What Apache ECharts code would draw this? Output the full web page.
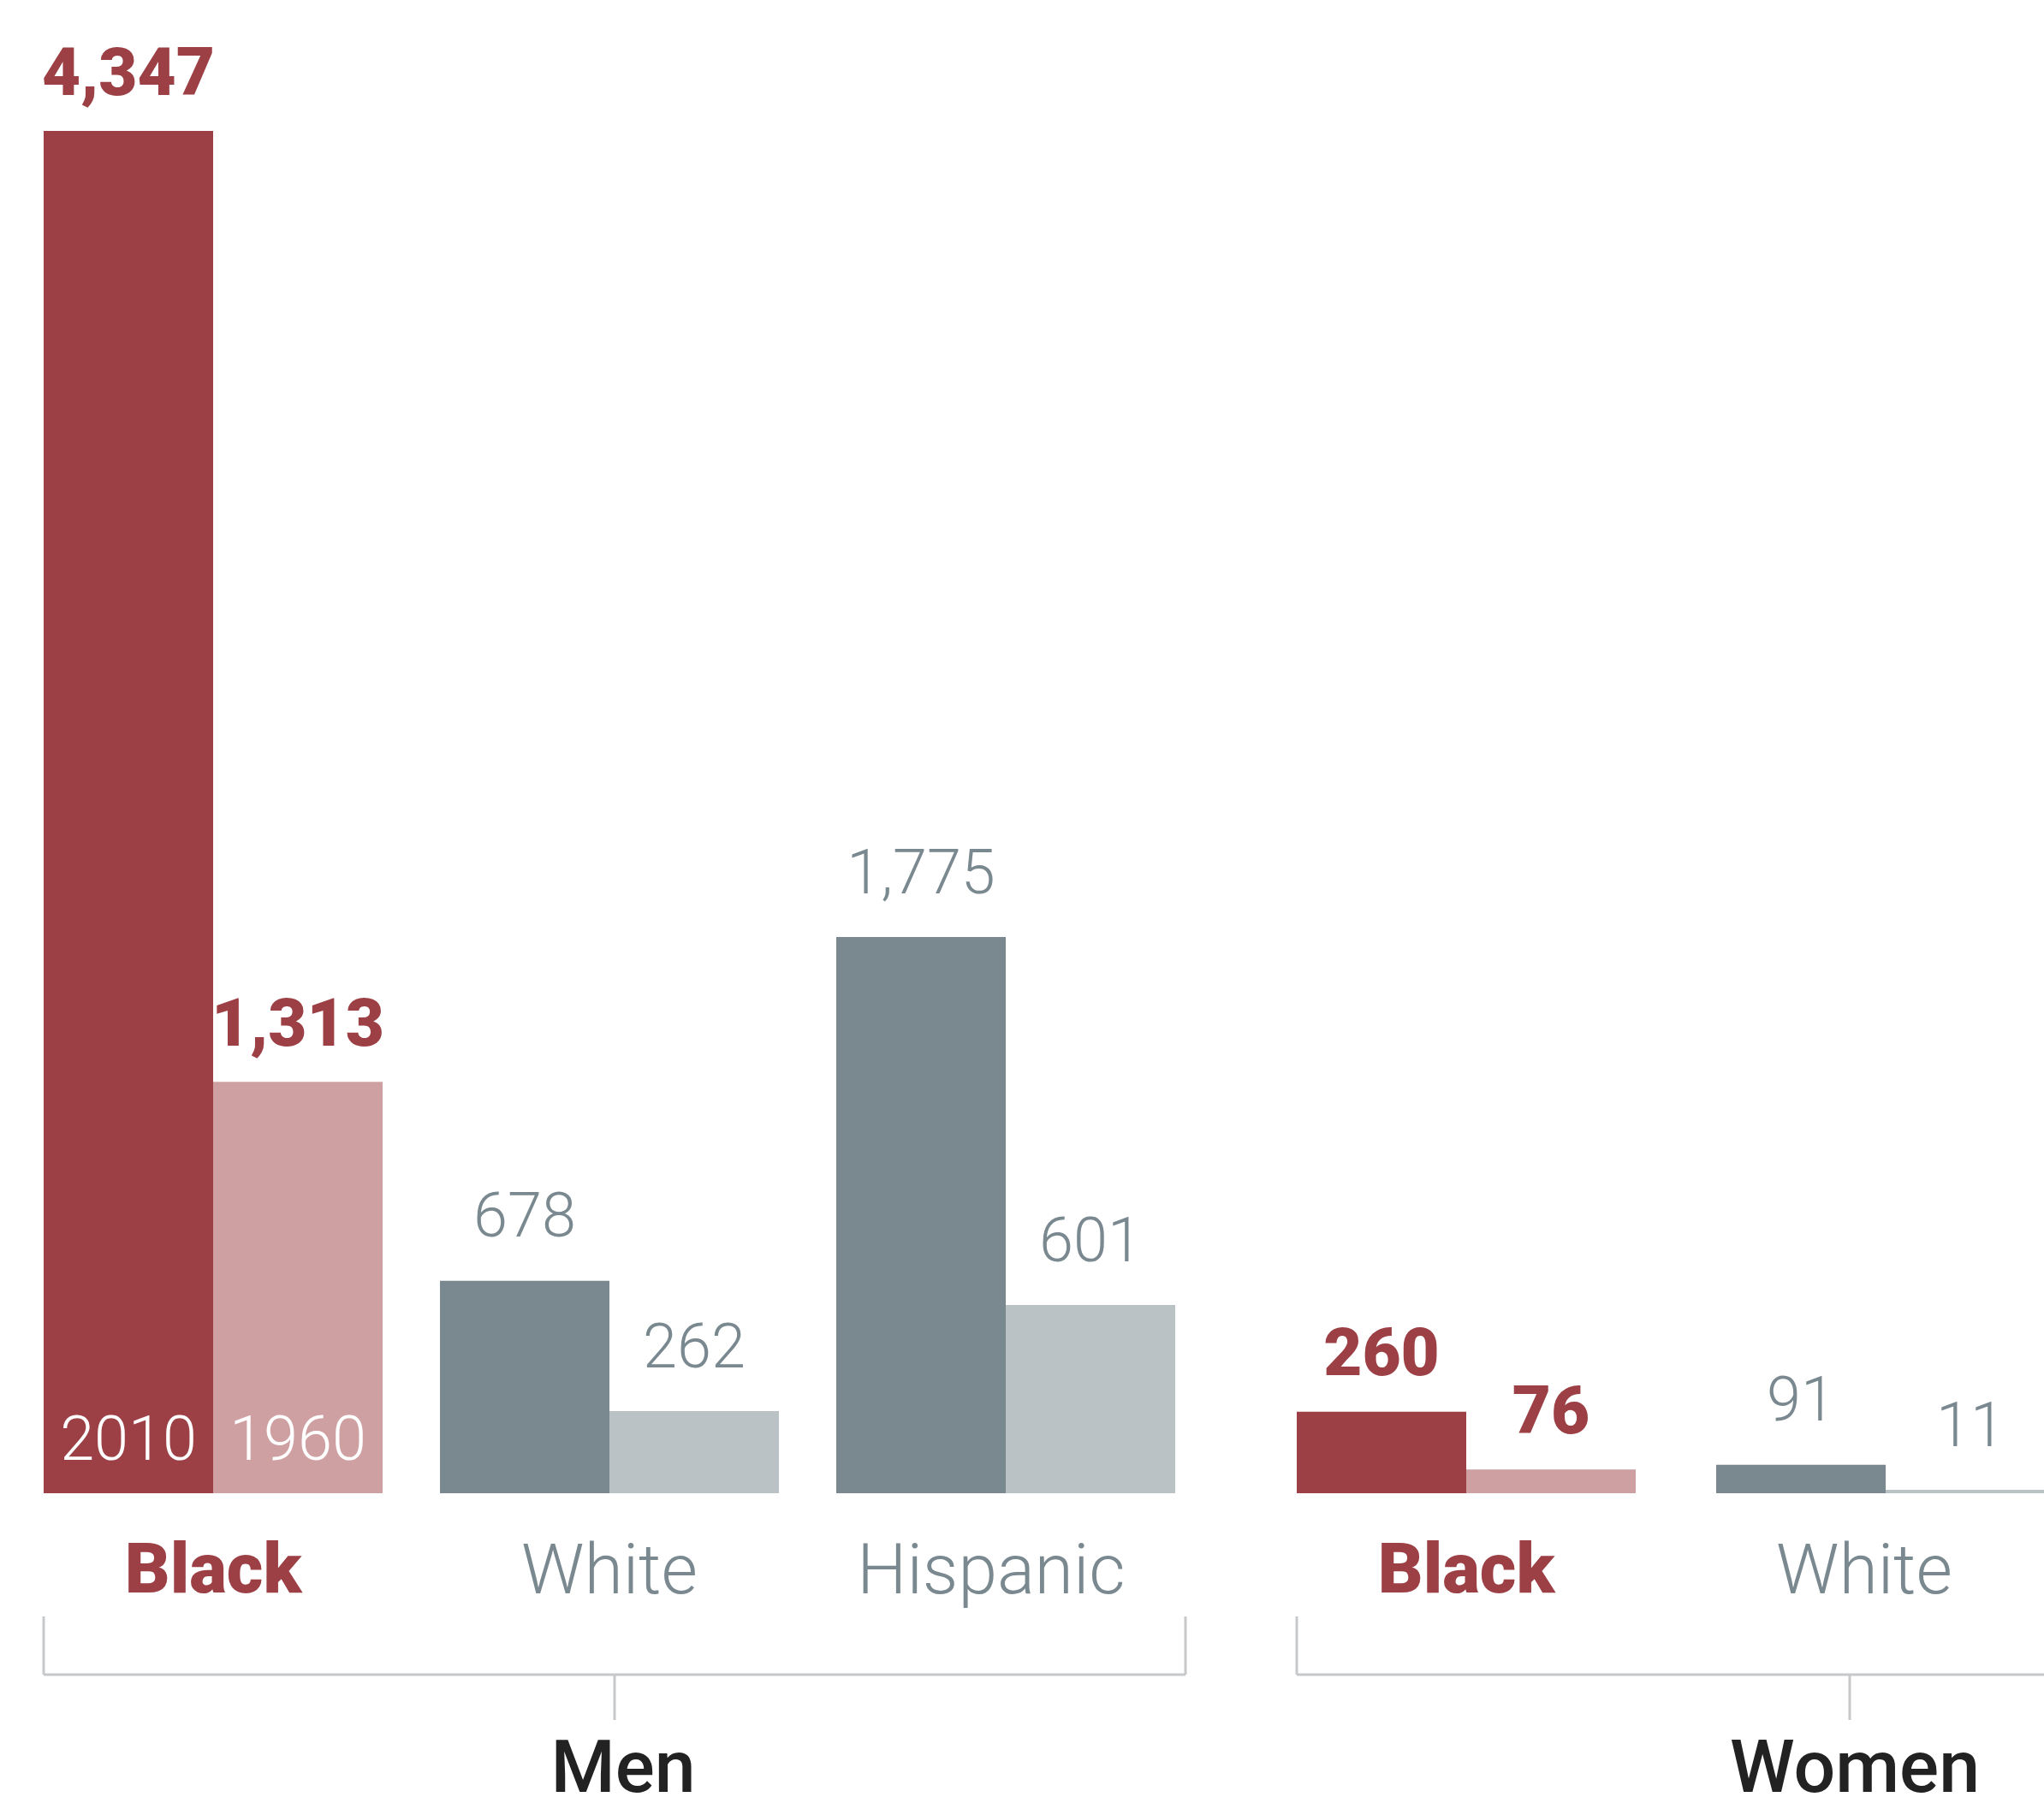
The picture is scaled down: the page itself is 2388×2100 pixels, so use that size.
<script src="https://cdnjs.cloudflare.com/ajax/libs/echarts/6.0.0/echarts.min.js"></script>
<body style="margin:0;background:#fff">
<div id="main" style="width:2388px;height:2100px;"></div>
<script type="text/javascript">
  // data
  var menCats = ['Black', 'White', 'Hispanic'];
  var men2010 = [4347, 678, 1775];
  var men1960 = [1313, 262, 601];
  var womenCats = ['Black', 'White'];
  var women2010 = [260, 91];
  var women1960 = [76, 11];
  var yearNames = ['2010', '1960'];
  var groupNames = ['Men', 'Women'];

  var RED = '#9c4046', PINK = '#cfa0a2', GRAY = '#7a888f', LGRAY = '#bac2c5';
  var TXTGRAY = '#7a888f';
  var BAR_W = 198;

  var chart = echarts.init(document.getElementById('main'));

  function fmt(v) { return v.toLocaleString('en-US'); }

  var rich = {
    b: { fontFamily: 'Roboto', fontWeight: 900, fontSize: 78, color: RED },
    g: { fontFamily: 'Roboto', fontWeight: 300, fontSize: 72, color: TXTGRAY }
  };

  function makeData(vals, cats, recent) {
    return vals.map(function (v, i) {
      var black = cats[i] === 'Black';
      return {
        value: v,
        itemStyle: { color: black ? (recent ? RED : PINK) : (recent ? GRAY : LGRAY) },
        label: {
          show: true,
          position: 'top',
          distance: black ? 0 : 12,
          formatter: function (p) { return (black ? '{b|' : '{g|') + fmt(p.value) + '}'; },
          rich: rich
        }
      };
    });
  }

  function barSeries(idx, vals, cats, recent) {
    return {
      type: 'bar',
      name: recent ? yearNames[0] : yearNames[1],
      xAxisIndex: idx,
      yAxisIndex: idx,
      barWidth: BAR_W,
      barGap: '0%',
      data: makeData(vals, cats, recent)
    };
  }

  // year tag drawn at the foot of the first pair of bars
  function yearTag(val, name, dx) {
    return {
      type: 'scatter', xAxisIndex: 0, yAxisIndex: 0, symbolSize: 0,
      itemStyle: { opacity: 1 },
      data: [[0, val]],
      label: {
        show: true, position: 'top', distance: 0, offset: [dx, 0],
        formatter: name,
        fontFamily: 'Roboto', fontWeight: 300, fontSize: 72, color: '#fff'
      },
      z: 5
    };
  }

  // small nudges so category names sit where the original puts them
  function xAx(idx, cats, nudge) {
    return {
      type: 'category',
      gridIndex: idx,
      data: cats,
      axisLine: { show: false },
      axisTick: { show: false },
      axisLabel: {
        margin: 31,
        interval: 0,
        formatter: function (v, i) {
          var s = v === 'Black' ? 'b' : 'g';
          var n = nudge[i] || 0;
          return '{' + s + (n ? n : '') + '|' + v + '}';
        },
        rich: {
          b: { fontFamily: 'Roboto', fontWeight: 900, fontSize: 82, color: RED },
          g: { fontFamily: 'Roboto', fontWeight: 300, fontSize: 82, color: TXTGRAY },
          g34: { fontFamily: 'Roboto', fontWeight: 300, fontSize: 82, color: TXTGRAY, padding: [0, 34, 0, 0] },
          g50: { fontFamily: 'Roboto', fontWeight: 300, fontSize: 82, color: TXTGRAY, padding: [0, 50, 0, 0] }
        }
      }
    };
  }
  function yAx(idx) {
    return { type: 'value', gridIndex: idx, min: 0, max: 4500, show: false, splitLine: { show: false } };
  }

  chart.setOption({
    animation: false,
    grid: [
      { left: 17.5, width: 1389, top: 97, bottom: 355, outerBoundsMode: 'none' },
      { left: 1468, width: 980, top: 97, bottom: 355, outerBoundsMode: 'none' }
    ],
    xAxis: [xAx(0, menCats, [0, 0, 34]), xAx(1, womenCats, [0, 50])],
    yAxis: [yAx(0), yAx(1)],
    series: [
      barSeries(0, men2010, menCats, true),
      barSeries(0, men1960, menCats, false),
      barSeries(1, women2010, womenCats, true),
      barSeries(1, women1960, womenCats, false),
      yearTag(0, yearNames[0], -BAR_W / 2),
      yearTag(0, yearNames[1], BAR_W / 2)
    ]
  });

  // brackets and group names
  var m0 = chart.convertToPixel({ xAxisIndex: 0 }, 0);
  var m2 = chart.convertToPixel({ xAxisIndex: 0 }, 2);
  var w0 = chart.convertToPixel({ xAxisIndex: 1 }, 0);
  var menL = m0 - BAR_W, menR = m2 + BAR_W + 12, menC = (menL + menR) / 2;
  var womL = w0 - BAR_W, womC = womL + 646;
  var yTop = 1889, yH = 1957, yBot = 2010;
  var lineStyle = { stroke: '#c6c8ca', lineWidth: 3 };
  function seg(x1, y1, x2, y2) {
    return { type: 'line', shape: { x1: x1, y1: y1, x2: x2, y2: y2 }, style: lineStyle, silent: true };
  }
  chart.setOption({
    graphic: [
      seg(menL, yTop, menL, yH), seg(menL, yH, menR, yH), seg(menR, yTop, menR, yH), seg(menC, yH, menC, yBot),
      seg(womL, yTop, womL, yH), seg(womL, yH, 2388, yH), seg(womC, yH, womC, yBot),
      { type: 'text', x: menC + 10, y: 2072, style: { text: groupNames[0], font: '500 86px Roboto', fill: '#222', align: 'center', verticalAlign: 'middle' } },
      { type: 'text', x: womC + 6, y: 2072, style: { text: groupNames[1], font: '500 86px Roboto', fill: '#222', align: 'center', verticalAlign: 'middle' } }
    ]
  });
</script>
</body>
